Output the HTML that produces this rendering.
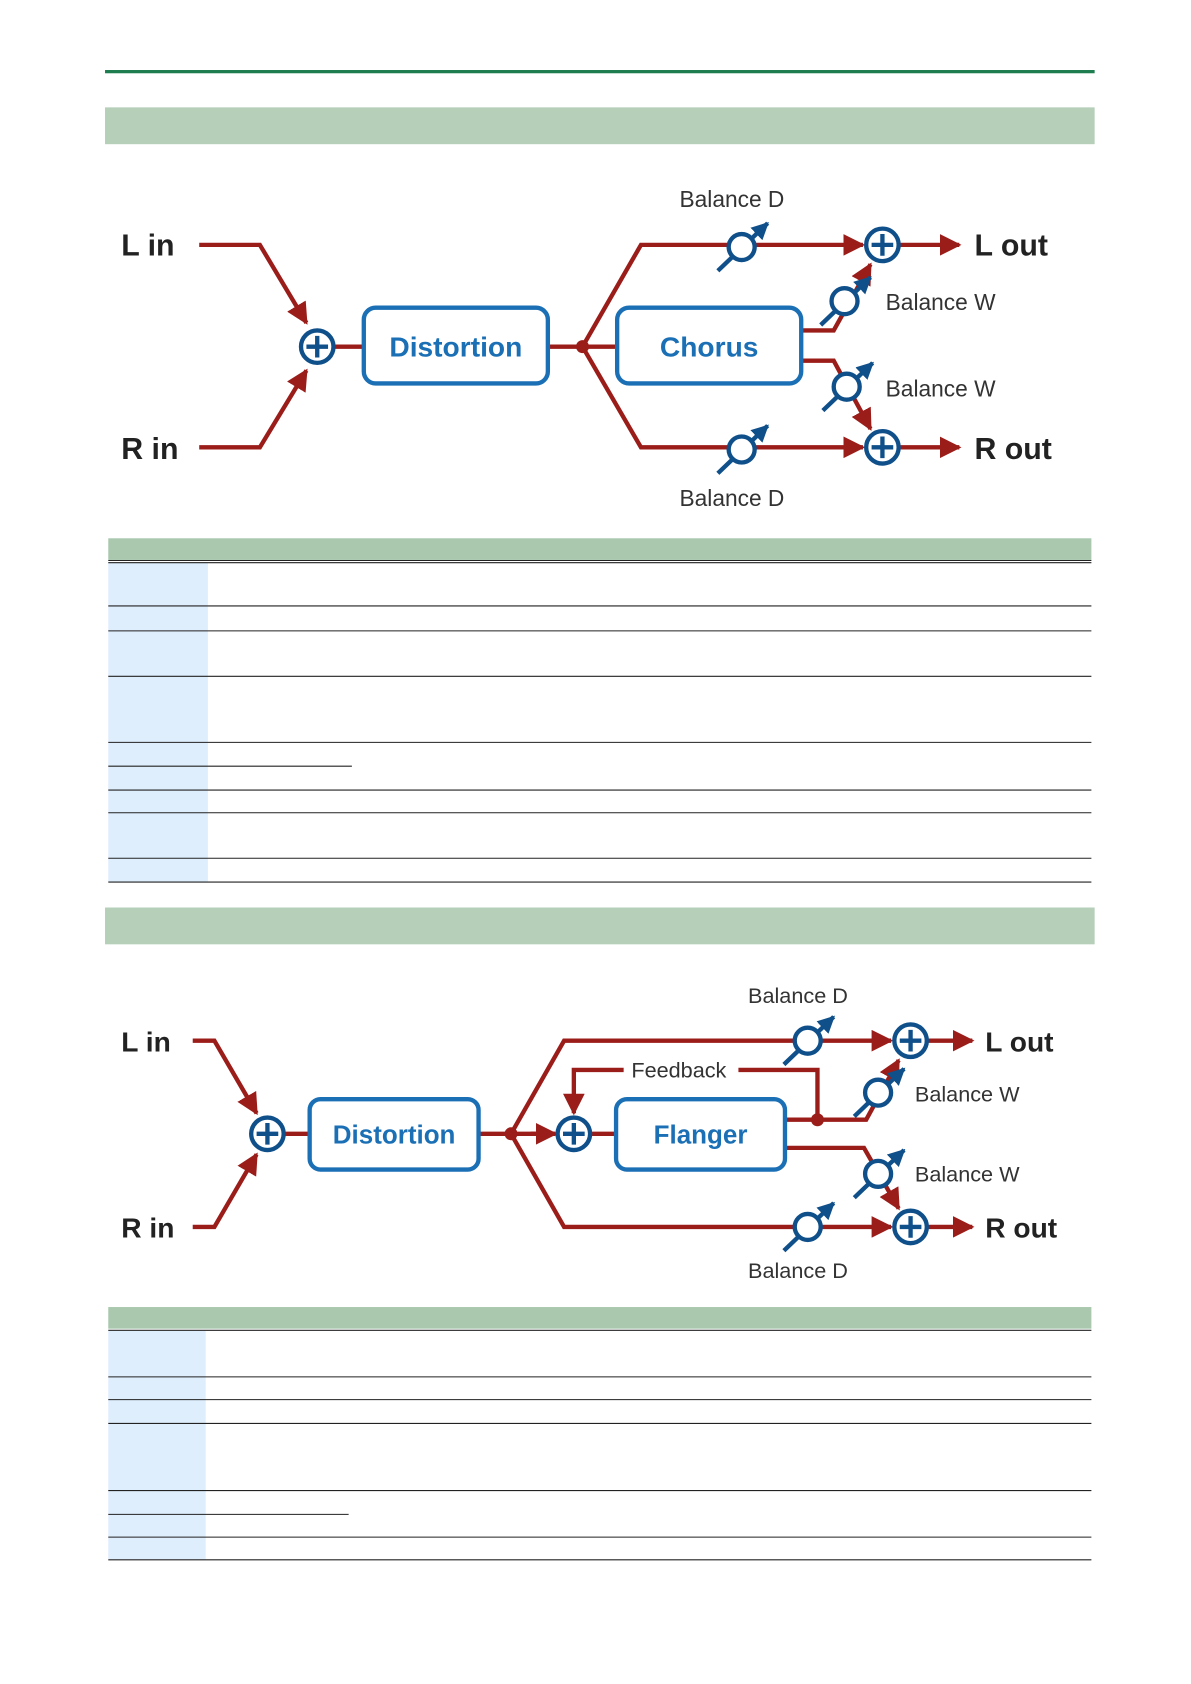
<!DOCTYPE html>
<html><head><meta charset="utf-8"><style>
html,body{margin:0;padding:0;background:#fff;}
svg{display:block;}
</style></head><body>
<svg width="1191" height="1684" viewBox="0 0 1100 1555" xmlns="http://www.w3.org/2000/svg" font-family="Liberation Sans, sans-serif">
<defs>
<marker id="ar" viewBox="0 0 10 10" refX="9" refY="5" markerWidth="5" markerHeight="5" orient="auto" markerUnits="strokeWidth"><path d="M0,0 L10,5 L0,10 z" fill="#9b1d1a"/></marker>
<marker id="ab" viewBox="0 0 10 10" refX="9" refY="5" markerWidth="4" markerHeight="4" orient="auto" markerUnits="strokeWidth"><path d="M0,0 L10,5 L0,10 z" fill="#0f4f8a"/></marker>
<g id="sum"><circle r="15" fill="#fff" stroke="#0f4f8a" stroke-width="4"/><path d="M-10,0H10M0,-10V10" stroke="#0f4f8a" stroke-width="4"/></g>
<g id="knob"><line x1="-22" y1="22" x2="24" y2="-22" stroke="#0f4f8a" stroke-width="4" marker-end="url(#ab)"/><circle r="12" fill="#fff" stroke="#0f4f8a" stroke-width="4"/></g>
</defs>
<rect x="97" y="64.5" width="914" height="3" fill="#1e7d4e"/>
<rect x="97" y="99" width="914" height="34" fill="#b5cfb9"/>
<rect x="97" y="838" width="914" height="34" fill="#b5cfb9"/>

<!-- Diagram 1 -->
<g fill="none" stroke="#9b1d1a" stroke-width="4">
<path d="M184,226H240L283,298" marker-end="url(#ar)"/>
<path d="M184,413H240L283,342" marker-end="url(#ar)"/>
<path d="M309,320H336M506,320H570"/>
<path d="M538,320L592,226H797" marker-end="url(#ar)"/>
<path d="M538,320L592,413H797" marker-end="url(#ar)"/>
<path d="M831,226H886" marker-end="url(#ar)"/>
<path d="M831,413H886" marker-end="url(#ar)"/>
<path d="M740,305H770L804,244" marker-end="url(#ar)"/>
<path d="M740,333H770L804,396" marker-end="url(#ar)"/>
</g>
<circle cx="538" cy="320" r="6" fill="#9b1d1a"/>
<use href="#sum" x="293" y="320"/><use href="#sum" x="815" y="226"/><use href="#sum" x="815" y="413"/>
<use href="#knob" x="685" y="228"/><use href="#knob" x="685" y="415"/>
<use href="#knob" x="780" y="278"/><use href="#knob" x="782" y="357"/>
<rect x="336" y="284" width="170" height="70" rx="11" fill="#fff" stroke="#1a6fb5" stroke-width="4"/>
<rect x="570" y="284" width="170" height="70" rx="11" fill="#fff" stroke="#1a6fb5" stroke-width="4"/>
<g fill="#1a6fb5" font-weight="bold" font-size="26" text-anchor="middle">
<text x="421" y="329">Distortion</text><text x="655" y="329">Chorus</text>
<text x="363" y="1056" font-size="24">Distortion</text><text x="647" y="1056" font-size="24">Flanger</text>
</g>
<g fill="#222" font-size="28" font-weight="bold">
<text x="112" y="236">L in</text><text x="112" y="424">R in</text>
<text x="900" y="236">L out</text><text x="900" y="424">R out</text>
<text x="112" y="971" font-size="26">L in</text><text x="112" y="1143" font-size="26">R in</text>
<text x="910" y="971" font-size="26">L out</text><text x="910" y="1143" font-size="26">R out</text>
</g>
<g fill="#333" font-size="21">
<text x="676" y="191" text-anchor="middle">Balance D</text>
<text x="676" y="467" text-anchor="middle">Balance D</text>
<text x="818" y="286">Balance W</text><text x="818" y="366">Balance W</text>
<text x="737" y="926" text-anchor="middle" font-size="20">Balance D</text>
<text x="737" y="1180" text-anchor="middle" font-size="20">Balance D</text>
<text x="845" y="1017" font-size="20">Balance W</text><text x="845" y="1091" font-size="20">Balance W</text>
<text x="627" y="995" text-anchor="middle" font-size="20">Feedback</text>
</g>

<!-- Diagram 2 -->
<g fill="none" stroke="#9b1d1a" stroke-width="4">
<path d="M178,961H198L237,1028" marker-end="url(#ar)"/>
<path d="M178,1133H198L237,1066" marker-end="url(#ar)"/>
<path d="M262,1047H286M442,1047H512" />
<path d="M490,1047H513" marker-end="url(#ar)"/>
<path d="M545,1047H569"/>
<path d="M472,1047L521,961H823" marker-end="url(#ar)"/>
<path d="M472,1047L521,1133H823" marker-end="url(#ar)"/>
<path d="M857,961H898" marker-end="url(#ar)"/>
<path d="M857,1133H898" marker-end="url(#ar)"/>
<path d="M755,1034V988H682"/>
<path d="M576,988H530V1028" marker-end="url(#ar)"/>
<path d="M725,1034H800L830,979" marker-end="url(#ar)"/>
<path d="M725,1060H798L830,1116" marker-end="url(#ar)"/>
</g>
<circle cx="472" cy="1047" r="6" fill="#9b1d1a"/><circle cx="755" cy="1034" r="6" fill="#9b1d1a"/>
<use href="#sum" x="247" y="1047"/><use href="#sum" x="530" y="1047"/>
<use href="#sum" x="841" y="961"/><use href="#sum" x="841" y="1133"/>
<use href="#knob" x="746" y="961"/><use href="#knob" x="746" y="1133"/>
<use href="#knob" x="811" y="1009"/><use href="#knob" x="811" y="1084"/>
<rect x="286" y="1015" width="156" height="65" rx="10" fill="#fff" stroke="#1a6fb5" stroke-width="4"/>
<rect x="569" y="1015" width="156" height="65" rx="10" fill="#fff" stroke="#1a6fb5" stroke-width="4"/>
<g fill="#1a6fb5" font-weight="bold" font-size="24" text-anchor="middle">
<text x="364" y="1056">Distortion</text><text x="647" y="1056">Flanger</text>
</g>

<!-- Table 1 -->
<rect x="100" y="497" width="908" height="20" fill="#a9c8ae"/>
<rect x="100" y="519" width="92" height="295" fill="#deeefd"/>
<g stroke="#222" stroke-width="1">
<path d="M100,517.5H1008M100,519.5H1008M100,559.5H1008M100,582.5H1008M100,624.5H1008M100,685.5H1008M100,707.5H325M100,729.5H1008M100,750.5H1008M100,792.5H1008M100,814.5H1008"/>
</g>
<!-- Table 2 -->
<rect x="100" y="1207" width="908" height="20" fill="#a9c8ae"/>
<rect x="100" y="1229" width="90" height="211" fill="#deeefd"/>
<g stroke="#222" stroke-width="1">
<path d="M100,1228.5H1008M100,1271.5H1008M100,1292.5H1008M100,1314.5H1008M100,1376.5H1008M100,1398.5H322M100,1419.5H1008M100,1440.5H1008"/>
</g>
</svg>
</body></html>
